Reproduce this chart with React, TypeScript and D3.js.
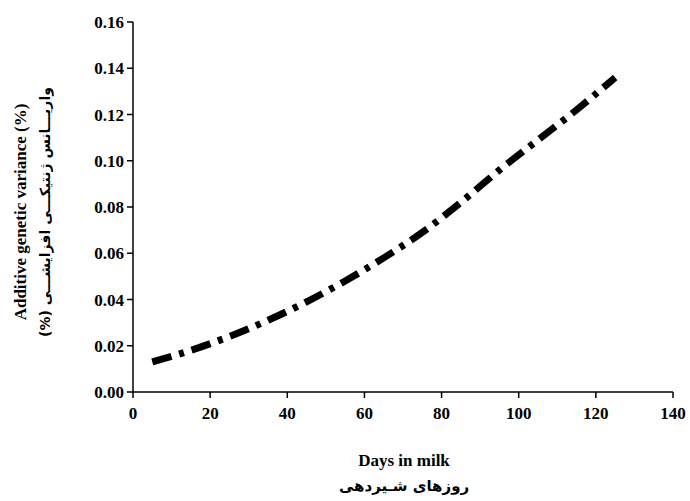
import React from 'react';
import * as d3 from 'd3';

const days = [5, 15, 25, 35, 45, 55, 65, 75, 85, 95, 105, 115, 125];
const variance = [0.013, 0.018, 0.024, 0.031, 0.039, 0.048, 0.058, 0.069, 0.082, 0.096, 0.109, 0.122, 0.136];
const xTicks = [0, 20, 40, 60, 80, 100, 120, 140];
const yTicks = [0, 0.02, 0.04, 0.06, 0.08, 0.1, 0.12, 0.14, 0.16];

const App: React.FC = () => {
  const width = 690;
  const height = 501;
  const x = d3.scaleLinear().domain([0, 140]).range([133, 673]);
  const y = d3.scaleLinear().domain([0, 0.16]).range([392, 22]);
  const line = d3.line<number>().x((_, i) => x(days[i])).y((d) => y(d)).curve(d3.curveMonotoneX);
  const font = '"Liberation Serif", "Times New Roman", serif';

  return (
    <svg width={width} height={height} style={{ position: 'absolute', left: 0, top: 0 }} fontFamily={font} fontWeight="bold">
      <line x1={x(0)} x2={x(140)} y1={y(0)} y2={y(0)} stroke="#000" strokeWidth={1.5} />
      <line x1={x(0)} x2={x(0)} y1={y(0)} y2={y(0.16)} stroke="#000" strokeWidth={1.5} />
      {xTicks.map((t) => (
        <g key={t}>
          <line x1={x(t)} x2={x(t)} y1={y(0)} y2={y(0) + 6} stroke="#000" strokeWidth={1.5} />
          <text x={x(t)} y={y(0) + 27} textAnchor="middle" fontSize={17}>{t}</text>
        </g>
      ))}
      {yTicks.map((t) => (
        <g key={t}>
          <line x1={x(0) - 6} x2={x(0)} y1={y(t)} y2={y(t)} stroke="#000" strokeWidth={1.5} />
          <text x={x(0) - 9} y={y(t) + 6} textAnchor="end" fontSize={17}>{t.toFixed(2)}</text>
        </g>
      ))}
      <path d={line(variance) ?? ''} fill="none" stroke="#000" strokeWidth={7} strokeDasharray="20 8 5 8" />
      <text x={404} y={466} textAnchor="middle" fontSize={17}>Days in milk</text>
      <text x={404} y={491} textAnchor="middle" fontSize={15} fontFamily='"DejaVu Sans", sans-serif'>روزهای شـیردهی</text>
      <text transform="translate(26,212) rotate(-90)" textAnchor="middle" fontSize={17}>Additive genetic variance (%)</text>
      <text transform="translate(50,212) rotate(-90)" textAnchor="middle" fontSize={14} fontFamily='"DejaVu Sans", sans-serif' direction="rtl">واریـــانس ژنتیکـــی افزایشـــی (%)</text>
    </svg>
  );
};

export default App;
